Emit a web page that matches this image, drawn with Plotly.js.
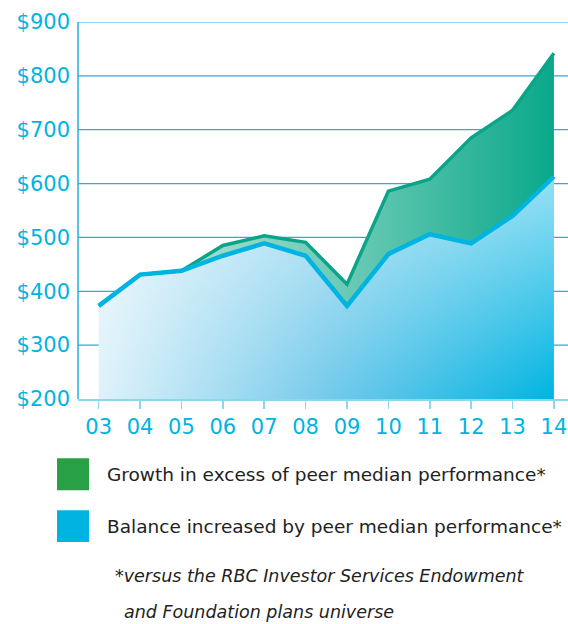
<!DOCTYPE html>
<html>
<head>
<meta charset="utf-8">
<script src="https://cdn.plot.ly/plotly-3.0.1.min.js"></script>
<style>
html,body{margin:0;padding:0;background:#fff;}
#chart{width:568px;height:624px;}
</style>
</head>
<body>
<div id="chart"></div>
<script>
// ---- data ----
const years = ['03','04','05','06','07','08','09','10','11','12','13','14'];
const yearNum = [3,4,5,6,7,8,9,10,11,12,13,14];
const peerMedian = [373,431,438,466,489,466,373,469,506,489,540,613];
const actualBalance = [373,431,438,485,503,491,413,586,608,685,736,842];
const yTicks = [200,300,400,500,600,700,800,900];
const yTickText = ['$200','$300','$400','$500','$600','$700','$800','$900'];
const legendLabels = ['Growth in excess of peer median performance*','Balance increased by peer median performance*'];
const legendColors = ['#27a046','#00b4e2'];
const footnote = ['*versus the RBC Investor Services Endowment','and Foundation plans universe'];

const cyan = '#00b4e2';
const teal = '#0aa589';
const gridCol = '#22b0dc';

const traces = [
  { x: yearNum, y: peerMedian, type:'scatter', mode:'lines', line:{width:0,color:cyan},
    fill:'tozeroy',
    fillgradient:{type:'horizontal', start:3, stop:14,
      colorscale:[[0,'#dff2fa'],[0.5,'#74caeb'],[1,'#00b4e2']]},
    hoverinfo:'skip', showlegend:false },
  { x: yearNum, y: peerMedian, type:'scatter', mode:'lines', line:{width:0,color:cyan},
    fill:'tozeroy',
    fillgradient:{type:'vertical', start:200, stop:620,
      colorscale:[[0,'rgba(255,255,255,0)'],[1,'rgba(255,255,255,0.6)']]},
    hoverinfo:'skip', showlegend:false },
  { x: yearNum, y: actualBalance, type:'scatter', mode:'lines', line:{width:3.5,color:teal},
    fill:'tonexty',
    fillgradient:{type:'horizontal', start:5, stop:14,
      colorscale:[[0,'#a6dfcf'],[0.5,'#62c7b1'],[1,'#0aa88a']]},
    hoverinfo:'skip', showlegend:false },
  { x: yearNum, y: peerMedian, type:'scatter', mode:'lines', line:{width:4.5,color:cyan},
    hoverinfo:'skip', showlegend:false }
];

const shapes = [];
const annotations = [];
yTicks.slice(1).forEach(v=>{
  shapes.push({type:'line', xref:'paper', yref:'y', x0:0, x1:1, y0:v, y1:v,
    layer:'below', line:{color:gridCol, width:1.2}});
});
// y axis line
shapes.push({type:'line', xref:'paper', yref:'paper', x0:0, x1:0, y0:0, y1:1,
  layer:'above', line:{color:gridCol, width:1.5}});

legendLabels.forEach((lab,i)=>{
  const top = 459 + i*52;
  shapes.push({type:'rect', xref:'paper', yref:'paper',
    x0: 57/490 - 78/490, x1: 89/490 - 78/490,
    y0: (399.5-top)/378 , y1:(399.5-top-32)/378,
    fillcolor:legendColors[i], line:{width:0}});
  annotations.push({xref:'paper', yref:'paper', x:(105-78)/490, y:(399.5-(top+16))/378,
    xanchor:'left', yanchor:'middle', showarrow:false, text:lab,
    font:{family:'DejaVu Sans', size:18.5, color:'#222'}});
});
footnote.forEach((t,i)=>{
  annotations.push({xref:'paper', yref:'paper', x:((i===0?113:122)-78)/490, y:(399.5-(577+i*36))/378,
    xanchor:'left', yanchor:'middle', showarrow:false, text:'<i>'+t+'</i>',
    font:{family:'DejaVu Sans', size:17.5, color:'#222'}});
});

const layout = {
  width:568, height:624,
  margin:{l:78, r:0, t:21.5, b:224.5},
  paper_bgcolor:'#fff', plot_bgcolor:'#fff',
  font:{family:'DejaVu Sans'},
  xaxis:{range:[2.5,14.34], tickmode:'array', tickvals:yearNum, ticktext:years, showgrid:false, zeroline:false,
    showline:true, linecolor:'#8ed6ee', linewidth:1.5, ticklabeloverflow:'allow',
    ticks:'outside', ticklen:8, tickcolor:'#8ed6ee', tickwidth:1.5,
    tickfont:{family:'DejaVu Sans', size:21, color:cyan}},
  yaxis:{range:[200,900], tickmode:'array', tickvals:yTicks, ticktext:yTickText,
    showgrid:false, zeroline:false, showline:false, ticks:'', ticklabelstandoff:7,
    tickfont:{family:'DejaVu Sans', size:21, color:cyan}},
  shapes:shapes, annotations:annotations, showlegend:false
};

Plotly.newPlot('chart', traces, layout, {displayModeBar:false, staticPlot:true});
</script>
</body>
</html>
